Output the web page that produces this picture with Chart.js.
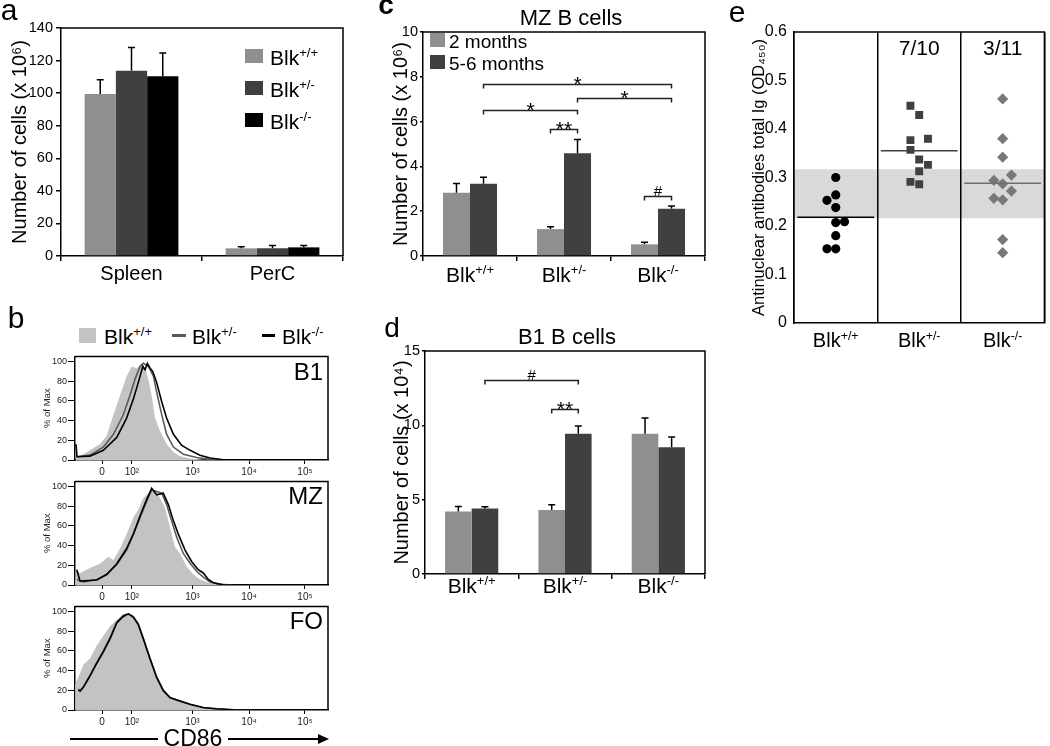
<!DOCTYPE html>
<html>
<head>
<meta charset="utf-8">
<script src="https://cdn.jsdelivr.net/npm/chart.js@4"></script>
<style>
body { margin:0; width:1050px; height:746px; position:relative; overflow:hidden; background:#fff;
       font-family:'Liberation Sans', Arial, sans-serif; }
canvas { position:absolute; }
.lbl { position:absolute; color:#000; white-space:nowrap; line-height:1; }
.sp { font-size:62%; vertical-align:0.6em; line-height:0; }
.sw { position:absolute; }
</style>
</head>
<body>
<canvas id="ca" width="350" height="290" style="left:0;top:0"></canvas>
<canvas id="cb1" width="305" height="130" style="left:30px;top:350px"></canvas>
<canvas id="cb2" width="305" height="130" style="left:30px;top:475px"></canvas>
<canvas id="cb3" width="305" height="130" style="left:30px;top:600px"></canvas>
<canvas id="cc" width="330" height="290" style="left:380px;top:0"></canvas>
<canvas id="cd" width="330" height="290" style="left:380px;top:320px"></canvas>
<canvas id="ce" width="330" height="360" style="left:720px;top:0"></canvas>
<script>
// ---- a: cell numbers ----
const aCats = ['Spleen', 'PerC'];
const aWt = [99.4, 4.7];
const aHet = [113.8, 4.7];
const aKo = [110.3, 5.3];
const aWtErr = [8.8, 1.0];
const aHetErr = [14.3, 1.7];
const aKoErr = [14.3, 1.1];

const genos = [['Blk', '+/+'], ['Blk', '+/-'], ['Blk', '-/-']];

// ---- b: CD86 histograms, [channel, % of max] ----
const histTickPos = [107, 225, 464, 688, 909];
const histTickText = ['0', '10²', '10³', '10⁴', '10⁵'];
const b1Wt = [[0,0],[3,16],[8,4],[20,4],[59,9.8],[99,16.3],[125,24.5],[152,45.8],[178,65.4],[204,85],[224,94.8],[244,93.1],[264,98],[277,93.1],[290,81.7],[303,65.4],[316,42.5],[336,29.4],[362,16.3],[389,8.2],[415,3.9],[455,1.6],[507,0.3],[560,0]];
const b1Het = [[7,3.3],[59,4.9],[112,13.1],[152,26.1],[191,45.8],[217,65.4],[237,81.7],[257,94.8],[270,98],[290,94.8],[310,85],[323,68.6],[343,45.8],[362,26.1],[389,13.1],[428,5.9],[481,2.6],[534,0.7],[586,0]];
const b1Ko = [[4,16],[8,3.3],[59,3.9],[112,9.8],[165,22.9],[204,42.5],[231,62.1],[250,78.4],[268,94.8],[277,91.5],[286,98],[297,93.1],[307,89.9],[323,78.4],[343,58.8],[362,42.5],[389,26.1],[422,14.7],[455,9.8],[494,4.9],[534,2],[586,0.3],[639,0]];
const mzWt = [[0,0],[4,15.5],[20,12.2],[59,17.2],[99,21.5],[132,28.7],[152,25.4],[178,37],[204,51.8],[231,68.3],[250,76.6],[270,88.1],[297,94.7],[316,96.4],[336,88.1],[356,78.2],[376,58.4],[395,38.6],[415,32],[441,18.8],[468,10.6],[494,5.6],[521,3],[560,0.7],[613,0]];
const mzHet = [[7,5.6],[33,3],[86,5.6],[125,10.6],[165,20.5],[204,35.3],[231,51.8],[257,68.3],[283,84.8],[303,96.4],[323,94.7],[343,93.1],[362,81.5],[382,65],[402,48.5],[428,32],[455,22.1],[481,13.9],[507,7.9],[534,3],[573,0.7],[626,0]];
const mzKo = [[7,15.5],[20,4],[86,5],[125,10.6],[165,21.5],[204,37],[231,51.8],[257,70],[283,86.5],[303,98],[323,91.4],[349,93.1],[369,81.5],[389,65],[408,51.8],[435,35.3],[461,23.8],[487,15.5],[507,12.2],[527,5.6],[547,2.3],[586,0.3],[639,0]];
const foWt = [[0,0],[1,26],[7,29.4],[33,45.8],[59,52.3],[86,65.4],[112,75.2],[138,85],[165,91.5],[191,96.4],[217,96.4],[237,91.5],[257,81.7],[283,62.1],[310,42.5],[336,26.1],[362,14.7],[402,9.8],[441,5.9],[494,2.6],[547,1],[613,0.3],[680,0]];
const foHet = [[13,21],[20,20],[33,23.5],[59,35],[86,48],[112,60],[138,73],[165,89],[191,96],[211,97.4],[230,95],[250,87.5],[270,73],[296,53],[323,33.5],[349,20],[376,12.7],[415,9],[455,5.6],[507,2.3],[560,1],[626,0.2],[700,0]];
const foKo = [[13,20.3],[20,19],[33,22.9],[59,34.3],[86,47.4],[112,58.8],[138,71.9],[165,88.2],[191,94.8],[211,97.4],[230,94.1],[250,86.6],[270,71.9],[296,52.3],[323,32.7],[349,19.6],[376,12.4],[415,9.2],[455,5.9],[507,2.6],[560,1.3],[626,0.3],[700,0]];

// ---- c: MZ B cells (x 10^6) ----
const c2m = [2.82, 1.2, 0.52];
const c56m = [3.22, 4.59, 2.11];
const c2mErr = [0.42, 0.11, 0.09];
const c56mErr = [0.3, 0.61, 0.12];
// brackets: [dataset, category] at both ends
const cSigFrom = [[1,0], [1,1], [1,0], [0,1], [0,2]];
const cSigTo   = [[1,2], [1,2], [1,1], [1,1], [1,2]];
const cSigY    = [7.7, 7.06, 6.51, 5.66, 2.69];
const cSigText = ['*', '*', '*', '**', '#'];

// ---- d: B1 B cells (x 10^4) ----
const d2m = [4.2, 4.31, 9.43];
const d56m = [4.4, 9.43, 8.52];
const d2mErr = [0.34, 0.34, 1.07];
const d56mErr = [0.12, 0.52, 0.69];
const dSigFrom = [[1,0], [0,1]];
const dSigTo   = [[1,1], [1,1]];
const dSigY    = [13.08, 11.13];
const dSigText = ['#', '**'];

// ---- e: ANA total Ig (OD450); slot = side-by-side offset of overlapping dots ----
const eWt = [0.300, 0.264, 0.253, 0.238, 0.207, 0.209, 0.180, 0.153, 0.153];
const eWtSlot = [0, 0, -1, 0, 0, 1, 0, -1, 0];
const eHet = [0.448, 0.429, 0.377, 0.380, 0.357, 0.337, 0.326, 0.313, 0.291, 0.286];
const eHetSlot = [-1, 0, -1, 1, -1, 0, 1, 0, -1, 0];
const eKo = [0.462, 0.380, 0.342, 0.305, 0.294, 0.287, 0.272, 0.257, 0.254, 0.172, 0.145];
const eKoSlot = [0, 0, 0, 1, -1, 0, 1, -1, 0, 0, 0];
const eMeans = [0.218, 0.355, 0.288];
const eBand = [0.216, 0.317];
const eCounts = ['', '7/10', '3/11'];

Chart.defaults.font.family = "'Liberation Sans', Arial, sans-serif";
Chart.defaults.color = '#000';
Chart.defaults.animation = false;
Chart.defaults.responsive = false;
Chart.defaults.plugins.legend.display = false;
Chart.defaults.plugins.tooltip.enabled = false;

const LIGHT = '#8f8f8f', DARK = '#404040';

function genoHtml(g) { return g[0] + '<span class="sp">' + g[1] + '</span>'; }

function label(html, x, y, size, align, extra) {
  const d = document.createElement('div');
  d.className = 'lbl';
  d.innerHTML = html;
  d.style.left = x + 'px';
  d.style.top = y + 'px';
  d.style.fontSize = size + 'px';
  d.style.transform = align === 'left' ? 'translate(0,-50%)' : align === 'right' ? 'translate(-100%,-50%)' : 'translate(-50%,-50%)';
  if (extra) Object.assign(d.style, extra);
  document.body.appendChild(d);
  return d;
}

function swatch(x, y, w, h, color) {
  const d = document.createElement('div');
  d.className = 'sw';
  Object.assign(d.style, { left: x + 'px', top: y + 'px', width: w + 'px', height: h + 'px', background: color });
  document.body.appendChild(d);
}

function makeErrBars(errs, cap) {
  return {
    id: 'errBars',
    afterDatasetsDraw(chart) {
      const ctx = chart.ctx, ys = chart.scales.y;
      ctx.save();
      ctx.strokeStyle = '#000';
      ctx.lineWidth = 1.5;
      errs.forEach((e, di) => {
        const vals = chart.data.datasets[di].data;
        chart.getDatasetMeta(di).data.forEach((bar, i) => {
          const top = ys.getPixelForValue(vals[i] + e[i]);
          ctx.beginPath();
          ctx.moveTo(bar.x, bar.y);
          ctx.lineTo(bar.x, top);
          ctx.moveTo(bar.x - cap, top);
          ctx.lineTo(bar.x + cap, top);
          ctx.stroke();
        });
      });
      ctx.restore();
    }
  };
}

function makeBrackets(from, to, ys, texts) {
  return {
    id: 'brackets',
    afterDatasetsDraw(chart) {
      const ctx = chart.ctx, sc = chart.scales.y;
      ctx.save();
      ctx.strokeStyle = '#222';
      ctx.lineWidth = 1.5;
      ctx.fillStyle = '#000';
      ctx.textAlign = 'center';
      ys.forEach((v, k) => {
        const x1 = chart.getDatasetMeta(from[k][0]).data[from[k][1]].x;
        const x2 = chart.getDatasetMeta(to[k][0]).data[to[k][1]].x;
        const py = Math.round(sc.getPixelForValue(v)) + 0.5;
        ctx.beginPath();
        ctx.moveTo(x1, py + 4);
        ctx.lineTo(x1, py);
        ctx.lineTo(x2, py);
        ctx.lineTo(x2, py + 4);
        ctx.stroke();
        if (texts[k] === '#') {
          ctx.font = "15px 'Liberation Sans', Arial, sans-serif";
          ctx.fillText(texts[k], (x1 + x2) / 2, py - 1);
        } else {
          ctx.font = "21px 'Liberation Sans', Arial, sans-serif";
          ctx.fillText(texts[k], (x1 + x2) / 2, py + 6);
        }
      });
      ctx.restore();
    }
  };
}

const frame = {
  id: 'frame',
  afterDraw(chart) {
    const { left, top, right, bottom } = chart.chartArea;
    const ctx = chart.ctx;
    ctx.save();
    ctx.strokeStyle = '#000';
    ctx.lineWidth = 1.5;
    ctx.beginPath();
    ctx.moveTo(left, top);
    ctx.lineTo(right, top);
    ctx.lineTo(right, bottom);
    ctx.stroke();
    ctx.restore();
  }
};

function barOptions(cfg) {
  return {
    layout: { padding: { top: cfg.padTop, right: cfg.padRight, left: 0, bottom: 0 } },
    datasets: { bar: { categoryPercentage: cfg.catPct, barPercentage: 1, borderWidth: 0 } },
    scales: {
      x: {
        grid: { drawOnChartArea: false, tickLength: 5, color: '#000', lineWidth: 1.5, offset: true },
        border: { color: '#000', width: 1.5 },
        ticks: cfg.xTicks || { display: false },
        afterFit: s => { s.height = cfg.xHeight; }
      },
      y: {
        min: 0, max: cfg.max,
        ticks: { stepSize: cfg.step, font: { size: 14.5 }, padding: cfg.tickPad },
        grid: { drawOnChartArea: false, tickLength: cfg.tickLen, color: '#000', lineWidth: 1.5 },
        border: { color: '#000', width: 1.5 },
        title: { display: true, text: cfg.title, font: { size: 20, lineHeight: 1 }, padding: { top: cfg.titlePad, bottom: 0 } },
        afterFit: s => { s.width = cfg.yWidth; }
      }
    }
  };
}

// ---- panel a ----
const chartA = new Chart(document.getElementById('ca'), {
  type: 'bar',
  data: {
    labels: aCats,
    datasets: [
      { data: aWt, backgroundColor: LIGHT },
      { data: aHet, backgroundColor: DARK },
      { data: aKo, backgroundColor: '#000' }
    ]
  },
  options: barOptions({ padTop: 28, padRight: 7, catPct: 0.665, xHeight: 34, max: 140, step: 20,
    tickPad: 3, tickLen: 5, title: 'Number of cells (x 10⁶)', titlePad: 10, yWidth: 61,
    xTicks: { font: { size: 20 }, padding: 1, color: '#000' } }),
  plugins: [makeErrBars([aWtErr, aHetErr, aKoErr], 3.5), frame]
});
[LIGHT, DARK, '#000'].forEach((col, i) => {
  swatch(245, 49 + i * 32, 18, 14, col);
  label(genoHtml(genos[i]), 270, 57 + i * 32, 21, 'left');
});

// ---- panel c ----
const chartC = new Chart(document.getElementById('cc'), {
  type: 'bar',
  data: {
    labels: genos.map(g => g.join('')),
    datasets: [
      { data: c2m, backgroundColor: LIGHT },
      { data: c56m, backgroundColor: DARK }
    ]
  },
  options: barOptions({ padTop: 32, padRight: 5, catPct: 0.575, xHeight: 34, max: 10, step: 2,
    tickPad: 2, tickLen: 3, title: 'Number of cells (x 10⁶)', titlePad: 11, yWidth: 43 }),
  plugins: [makeErrBars([c2mErr, c56mErr], 3.5), makeBrackets(cSigFrom, cSigTo, cSigY, cSigText), frame]
});
genos.forEach((g, i) => label(genoHtml(g), 380 + chartC.scales.x.getPixelForValue(i), 274, 21, 'center'));
swatch(430, 33, 15, 14, LIGHT);
swatch(430, 55, 15, 14, DARK);
label('2 months', 449, 41, 19, 'left');
label('5-6 months', 449, 63, 19, 'left');
label('MZ B cells', 571, 18, 22, 'center');

// ---- panel d ----
const chartD = new Chart(document.getElementById('cd'), {
  type: 'bar',
  data: {
    labels: genos.map(g => g.join('')),
    datasets: [
      { data: d2m, backgroundColor: LIGHT },
      { data: d56m, backgroundColor: DARK }
    ]
  },
  options: barOptions({ padTop: 31, padRight: 5, catPct: 0.57, xHeight: 36, max: 15, step: 5,
    tickPad: 2, tickLen: 3, title: 'Number of cells (x 10⁴)', titlePad: 12, yWidth: 45 }),
  plugins: [makeErrBars([d2mErr, d56mErr], 3.5), makeBrackets(dSigFrom, dSigTo, dSigY, dSigText), frame]
});
genos.forEach((g, i) => label(genoHtml(g), 380 + chartD.scales.x.getPixelForValue(i), 585, 21, 'center'));
label('B1 B cells', 567, 337, 22, 'center');

// ---- panel e ----
function pts(vals, slots, g) { return vals.map((v, i) => ({ x: g + slots[i] * 0.105, y: v })); }
function meanLine(g, color) {
  return { type: 'line', data: [{ x: g - 0.46, y: eMeans[g - 1] }, { x: g + 0.46, y: eMeans[g - 1] }],
           borderColor: color, borderWidth: 1.5, pointRadius: 0, showLine: true };
}
const band = {
  id: 'band',
  beforeDraw(chart) {
    const { left, right } = chart.chartArea, ys = chart.scales.y;
    const t = ys.getPixelForValue(eBand[1]), b = ys.getPixelForValue(eBand[0]);
    chart.ctx.save();
    chart.ctx.fillStyle = '#d9d9d9';
    chart.ctx.fillRect(left, t, right - left, b - t);
    chart.ctx.restore();
  }
};
const chartE = new Chart(document.getElementById('ce'), {
  type: 'scatter',
  data: {
    datasets: [
      meanLine(1, '#000'), meanLine(2, '#404040'), meanLine(3, '#6e6e6e'),
      { data: pts(eWt, eWtSlot, 1), pointStyle: 'circle', pointRadius: 4.6, backgroundColor: '#000', borderWidth: 0 },
      { data: pts(eHet, eHetSlot, 2), pointStyle: 'rect', pointRadius: 5.6, backgroundColor: '#404040', borderWidth: 0 },
      { data: pts(eKo, eKoSlot, 3), pointStyle: 'rectRot', pointRadius: 5.6, backgroundColor: '#787878', borderWidth: 0 }
    ]
  },
  options: {
    layout: { padding: { top: 32, right: 2, left: 0, bottom: 0 } },
    scales: {
      x: {
        type: 'linear', min: 0.5, max: 3.5,
        afterBuildTicks: s => { s.ticks = [0.5, 1.5, 2.5, 3.5].map(v => ({ value: v })); },
        ticks: { display: false },
        grid: { color: '#000', lineWidth: 1.5, drawTicks: false },
        border: { color: '#000', width: 1.5 },
        afterFit: s => { s.height = 37; }
      },
      y: {
        min: 0, max: 0.6,
        ticks: { stepSize: 0.1, font: { size: 16 }, padding: 7 },
        grid: { drawOnChartArea: false, drawTicks: false },
        border: { color: '#000', width: 1.5 },
        title: { display: true, text: 'Antinuclear antibodies total Ig (OD₄₅₀)', font: { size: 16.5, lineHeight: 1 }, padding: { top: 31, bottom: 0 } },
        afterFit: s => { s.width = 74; }
      }
    }
  },
  plugins: [band, frame]
});
genos.forEach((g, i) => {
  const x = 720 + chartE.scales.x.getPixelForValue(i + 1);
  label(genoHtml(g), x, 340, 20, 'center');
  if (eCounts[i]) label(eCounts[i], x, 47, 21, 'center');
});

// ---- panel b ----
function toXY(arr) { return arr.map(p => ({ x: p[0], y: p[1] })); }
function histChart(id, wt, het, ko) {
  return new Chart(document.getElementById(id), {
    type: 'line',
    data: {
      datasets: [
        { data: toXY(ko), borderColor: '#000', borderWidth: 1.6, fill: false },
        { data: toXY(het), borderColor: '#5a5a5a', borderWidth: 1.6, fill: false },
        { data: toXY(wt), borderColor: 'rgba(0,0,0,0)', borderWidth: 0, backgroundColor: '#c3c3c3', fill: 'origin' }
      ]
    },
    options: {
      elements: { point: { radius: 0 }, line: { tension: 0 } },
      layout: { padding: { top: 3, right: 7, left: 0, bottom: 0 } },
      scales: {
        x: {
          type: 'linear', min: 0, max: 1000,
          afterBuildTicks: s => { s.ticks = histTickPos.map(v => ({ value: v })); },
          ticks: { callback: (v, i) => histTickText[i], font: { size: 10 }, color: '#222', padding: 2, maxRotation: 0, autoSkip: false },
          grid: { drawOnChartArea: false, tickLength: 4, color: '#000' },
          border: { color: '#000', width: 1.5 },
          afterFit: s => { s.height = 20; }
        },
        y: {
          min: 0, max: 105,
          afterBuildTicks: s => { s.ticks = [0, 20, 40, 60, 80, 100].map(v => ({ value: v })); },
          ticks: { font: { size: 9 }, color: '#222', padding: 1 },
          grid: { drawOnChartArea: false, tickLength: 7, color: '#000' },
          border: { color: '#000', width: 1.5 },
          title: { display: true, text: '% of Max', font: { size: 9.5, lineHeight: 1 }, color: '#222', padding: { top: 13, bottom: 0 } },
          afterFit: s => { s.width = 45; }
        }
      }
    },
    plugins: [frame]
  });
}
histChart('cb1', b1Wt, b1Het, b1Ko);
histChart('cb2', mzWt, mzHet, mzKo);
histChart('cb3', foWt, foHet, foKo);
label('B1', 323, 372, 24, 'right');
label('MZ', 323, 496, 24, 'right');
label('FO', 323, 621, 24, 'right');
swatch(79, 328, 17, 15, '#c3c3c3');
label(genoHtml(genos[0]), 104, 336, 21, 'left');
swatch(172, 334, 14, 3, '#5a5a5a');
label(genoHtml(genos[1]), 192, 336, 21, 'left');
swatch(262, 334, 13, 3, '#000');
label(genoHtml(genos[2]), 282, 336, 21, 'left');
// CD86 axis arrow
swatch(70, 738, 88, 1.5, '#000');
label('CD86', 193, 738, 23, 'center');
swatch(228, 738, 92, 1.5, '#000');
label('', 318, 739, 0, 'left', { width: '0', height: '0', borderTop: '5px solid transparent', borderBottom: '5px solid transparent', borderLeft: '11px solid #000' });

// panel letters
label('a', 9, 10, 30, 'center');
label('b', 16, 318, 30, 'center');
label('c', 386, 5, 28, 'center', { fontWeight: 'bold' });
label('d', 392, 328, 28, 'center');
label('e', 737, 12, 30, 'center');
</script>
</body>
</html>
